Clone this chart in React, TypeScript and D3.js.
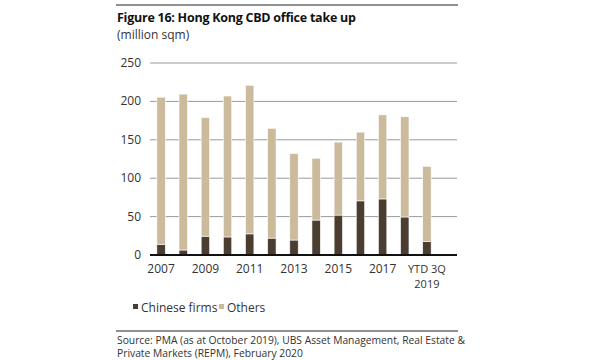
import { useEffect, useRef } from 'react';
import * as d3 from 'd3';

const years = ['2007', '2008', '2009', '2010', '2011', '2012', '2013', '2014', '2015', '2016', '2017', '2018', 'YTD 3Q 2019'];
const chineseFirms = [14, 6.5, 24.5, 23.5, 27.5, 22, 19.5, 45.5, 52, 70.5, 73, 49.5, 17.5];
const totals = [205.5, 209.5, 179, 207, 221, 165, 132, 126, 147, 160, 182.5, 180, 115.5];
const others = totals.map((t, i) => t - chineseFirms[i]);
const yTicks = [0, 50, 100, 150, 200, 250];

const FONT = '"Open Sans", "Noto Sans", sans-serif';

export default function App() {
  const ref = useRef<SVGSVGElement>(null);

  useEffect(() => {
    const svg = d3.select(ref.current);
    svg.selectAll('*').remove();

    const data = years.map((year, i) => ({ year, chinese: chineseFirms[i], others: others[i] }));

    const x = d3.scaleBand().domain(years).range([150, 438]).paddingInner(0.62).paddingOuter(0.31);
    const y = d3.scaleLinear().domain([0, 250]).range([255, 63]);

    // top rule + titles
    svg.append('line').attr('x1', 116).attr('x2', 458).attr('y1', 5).attr('y2', 5).attr('stroke', '#222').attr('stroke-width', 1);
    svg.append('text').attr('x', 117).attr('y', 22).text('Figure 16: Hong Kong CBD office take up')
      .style('font-family', FONT).style('font-size', '12.5px').style('letter-spacing', '-0.25px')
      .style('font-weight', 'bold').attr('fill', '#111');
    svg.append('text').attr('x', 117).attr('y', 39).text('(million sqm)')
      .style('font-family', FONT).style('font-size', '12px').attr('fill', '#333');

    // gridlines
    svg.append('g').selectAll('line').data(yTicks.filter((d) => d > 0)).join('line')
      .attr('x1', 150).attr('x2', 457).attr('y1', (d) => y(d)).attr('y2', (d) => y(d))
      .attr('stroke', '#9a9a9a').attr('stroke-width', 1);

    // y tick labels
    svg.append('g').selectAll('text').data(yTicks).join('text')
      .attr('x', 141).attr('y', (d) => y(d) + 4).attr('text-anchor', 'end').text((d) => d)
      .style('font-family', FONT).style('font-size', '12px').attr('fill', '#333');

    const stack = d3.stack<any>().keys(['chinese', 'others'])(data);
    const color: Record<string, string> = { chinese: '#4b3d30', others: '#cbbb9c' };

    svg.append('g').selectAll('g').data(stack).join('g')
      .attr('fill', (s) => color[s.key])
      .selectAll('rect').data((s) => s.map((d) => ({ d, key: s.key }))).join('rect')
      .attr('x', (e) => x(e.d.data.year)!)
      .attr('width', x.bandwidth())
      .attr('y', (e) => y(e.d[1]))
      .attr('height', (e) => y(e.d[0]) - y(e.d[1]))
      .attr('stroke', '#fff').attr('stroke-width', 0.6);

    // zero axis
    svg.append('line').attr('x1', 150).attr('x2', 457).attr('y1', y(0)).attr('y2', y(0)).attr('stroke', '#111').attr('stroke-width', 2);

    // x labels (every other year)
    const xl = svg.append('g');
    years.forEach((yr, i) => {
      if (i % 2 !== 0) return;
      const cx = x(yr)! + x.bandwidth() / 2;
      const lines = yr.startsWith('YTD') ? ['YTD 3Q', '2019'] : [yr];
      lines.forEach((ln, j) => {
        xl.append('text').attr('x', cx).attr('y', 273 + j * 15).attr('text-anchor', 'middle').text(ln)
          .style('font-family', FONT).style('font-size', lines.length > 1 ? '11px' : '12px').attr('fill', '#333');
      });
    });

    // legend
    const legend = [
      { label: 'Chinese firms', color: color.chinese, x: 133 },
      { label: 'Others', color: color.others, x: 219 },
    ];
    legend.forEach((l) => {
      svg.append('rect').attr('x', l.x).attr('y', 304).attr('width', 5).attr('height', 5).attr('fill', l.color);
      svg.append('text').attr('x', l.x + 8).attr('y', 312).text(l.label)
        .style('font-family', FONT).style('font-size', '12px').attr('fill', '#333');
    });

    // bottom rule + source
    svg.append('line').attr('x1', 116).attr('x2', 458).attr('y1', 331).attr('y2', 331).attr('stroke', '#222').attr('stroke-width', 1);
    svg.append('text').attr('x', 117).attr('y', 344).text('Source: PMA (as at October 2019), UBS Asset Management, Real Estate &')
      .style('font-family', FONT).style('font-size', '10.3px').attr('fill', '#333');
    svg.append('text').attr('x', 117).attr('y', 357).text('Private Markets (REPM), February 2020')
      .style('font-family', FONT).style('font-size', '10.3px').attr('fill', '#333');
  }, []);

  return <svg ref={ref} width={600} height={360} style={{ position: 'absolute', left: 0, top: 0, background: '#fff' }} />;
}
